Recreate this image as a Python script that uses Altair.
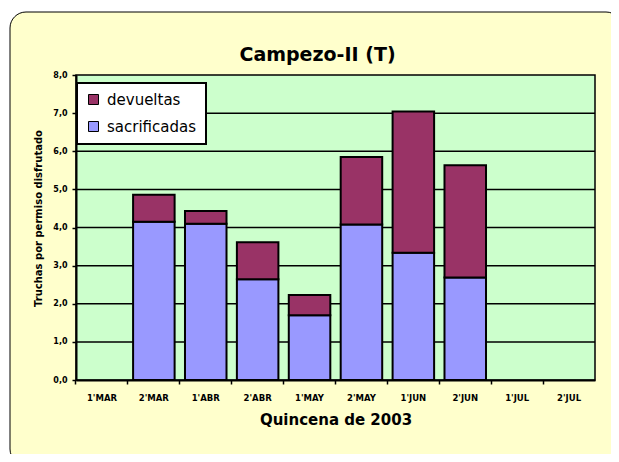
import altair as alt
import pandas as pd

categories = ["1'MAR", "2'MAR", "1'ABR", "2'ABR", "1'MAY", "2'MAY", "1'JUN", "2'JUN", "1'JUL", "2'JUL"]
sacrificadas = [None, 4.15, 4.10, 2.64, 1.70, 4.08, 3.34, 2.69, None, None]
devueltas = [None, 0.71, 0.33, 0.97, 0.53, 1.77, 3.70, 2.94, None, None]
series = ["devueltas", "sacrificadas"]
colors = ["#993366", "#9999FF"]
y_ticks = [0, 1, 2, 3, 4, 5, 6, 7, 8]
chart_title = "Campezo-II (T)"

rows = []
for c, s, d in zip(categories, sacrificadas, devueltas):
    if s is not None:
        rows.append({"quincena": c, "serie": "sacrificadas", "valor": s, "orden": 0})
    if d is not None:
        rows.append({"quincena": c, "serie": "devueltas", "valor": d, "orden": 1})
df = pd.DataFrame(rows)
grid_df = pd.DataFrame({"valor": y_ticks[1:-1]})
one = pd.DataFrame({"t": [chart_title]})

W, H = 519, 305
yscale = alt.Scale(domain=[0, 8], nice=False)

y_axis = alt.Axis(
    title="Truchas por permiso disfrutado",
    values=y_ticks,
    labelExpr="replace(format(datum.value, '.1f'), '.', ',')",
    labelFont="DejaVu Sans",
    labelFontWeight="bold",
    labelFontSize=8,
    labelPadding=5,
    tickSize=4,
    tickWidth=1.5,
    domainWidth=2,
    grid=False,
    titleFont="DejaVu Sans",
    titleFontWeight="bold",
    titleFontSize=10,
    titlePadding=9,
    titleY=143,
    zindex=1,
)

outer = alt.Chart(one).mark_rect(
    fill="#FFFFCC", stroke="black", strokeWidth=1, cornerRadius=16
).encode(x=alt.value(-66), x2=alt.value(W + 27), y=alt.value(-63), y2=alt.value(H + 85))

plotbg = alt.Chart(one).mark_rect(
    fill="#CCFFCC", stroke="black", strokeWidth=1.5
).encode(x=alt.value(0), x2=alt.value(W), y=alt.value(0), y2=alt.value(H))

title_mark = alt.Chart(one).mark_text(
    font="DejaVu Sans", fontWeight="bold", fontSize=19, color="black",
    align="center", baseline="alphabetic"
).encode(text="t:N", x=alt.value(W / 2 - 18), y=alt.value(-14))

grid = alt.Chart(grid_df).mark_rule(color="black", strokeWidth=1.5).encode(
    y=alt.Y("valor:Q", scale=yscale, axis=y_axis)
)

bars = alt.Chart(df).mark_bar(stroke="black", strokeWidth=2).encode(
    x=alt.X(
        "quincena:N",
        sort=categories,
        scale=alt.Scale(domain=categories, paddingInner=0.2, paddingOuter=0.1),
        axis=alt.Axis(
            title="Quincena de 2003",
            labelAngle=0,
            labelFont="DejaVu Sans",
            labelFontWeight="bold",
            labelFontSize=8.5,
            labelPadding=9,
            tickSize=4,
            tickWidth=1.5,
            domainWidth=2,
            bandPosition=-0.125,
            titleFont="DejaVu Sans",
            titleFontWeight="bold",
            titleFontSize=15,
            titlePadding=11,
            zindex=1,
        ),
    ),
    y=alt.Y("valor:Q", stack="zero", scale=yscale, axis=y_axis),
    color=alt.Color(
        "serie:N",
        scale=alt.Scale(domain=series, range=colors),
        legend=alt.Legend(
            title=None,
            orient="none",
            legendX=1,
            legendY=8,
            symbolType="square",
            symbolSize=100,
            symbolStrokeColor="black",
            symbolStrokeWidth=1,
            symbolOpacity=1,
            labelFont="DejaVu Sans",
            labelFontSize=15,
            labelOffset=6,
            rowPadding=11,
            padding=9,
            fillColor="white",
            strokeColor="black",
        ),
    ),
    order=alt.Order("orden:Q", sort="ascending"),
)

chart = alt.layer(outer, plotbg, title_mark, grid, bars).properties(
    width=W,
    height=H,
    autosize=alt.AutoSizeParams(type="none"),
    padding={"left": 68, "top": 67, "right": 16, "bottom": 74},
    background="white",
).configure_view(stroke=None).configure_axis(
    labelColor="black", tickColor="black", domainColor="black", titleColor="black"
).configure_legend(strokeWidth=2, labelColor="black")

chart.save("out.html", embed_options={"renderer": "svg", "actions": False})
